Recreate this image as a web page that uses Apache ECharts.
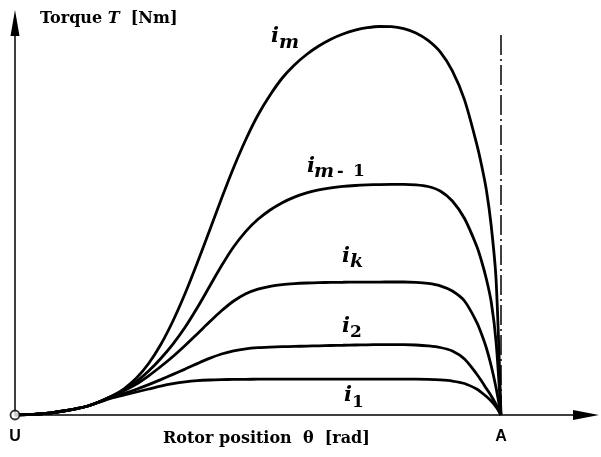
<!DOCTYPE html>
<html>
<head>
<meta charset="utf-8">
<script src="https://cdn.jsdelivr.net/npm/echarts@6/dist/echarts.min.js"></script>
<style>
html,body{margin:0;padding:0;background:#fff;}
#c{width:601px;height:457px;}
</style>
</head>
<body>
<div id="c"></div>
<script>
// Rotor position θ (A = 10)
const theta = [0,0.25,0.5,0.75,1,1.25,1.5,1.75,2,2.25,2.5,2.75,3,3.25,3.5,3.75,4,4.25,4.5,4.75,5,5.25,5.5,5.75,6,6.25,6.5,6.75,7,7.25,7.5,7.75,8,8.25,8.5,8.75,9,9.25,9.5,9.6,9.7,9.8,9.9,10];
// Torque curves (arbitrary units, axis top = 100)
const iM  = [0,0.08,0.26,0.56, 1.02,1.58,2.30,3.44, 4.85,6.76,9.44,13.14, 17.98,23.98,30.99,38.78, 46.94,55.23,63.14,70.28, 76.53,81.63,85.97,89.29, 91.96,94.13,95.87,97.19, 98.16,98.80,99.11,99.06, 98.55,97.45,95.56,92.63, 87.78,80.38,69.16, 63.78,57.40,48.21,34.44,0];
const iM1 = [0,0.08,0.26,0.56, 1.02,1.58,2.30,3.44, 4.85,6.38,8.52,11.20, 14.41,18.09,22.37,27.35, 32.70,38.06,42.91,46.86, 49.92,52.30,54.16,55.59, 56.66,57.42,57.96,58.32, 58.55,58.70,58.79,58.83, 58.83,58.72,58.29,57.14, 54.59,50.13,43.11, 39.29,34.69,28.83,18.62,0];
const iK  = [0,0.08,0.26,0.56, 1.02,1.58,2.30,3.44, 4.85,6.25,7.91,10.00, 12.37,14.92,17.73,20.69, 23.70,26.58,29.08,30.94, 32.12,32.83,33.27,33.52, 33.67,33.76,33.83,33.86, 33.89,33.90,33.92,33.93, 33.93,33.85,33.57,32.96, 31.63,29.08,23.72, 20.66,17.09,12.50,6.89,0];
const i2  = [0,0.08,0.26,0.56, 1.02,1.58,2.30,3.40, 4.59,5.51,6.58,7.76, 9.03,10.36,11.71,13.11, 14.44,15.56,16.38,16.89, 17.17,17.32,17.42,17.50, 17.58,17.65,17.73,17.79, 17.86,17.91,17.95,17.96, 17.96,17.86,17.63,17.22, 16.33,14.29,10.46, 8.67,6.76,4.85,2.68,0];
const i1  = [0,0.08,0.26,0.56, 1.02,1.58,2.30,3.32, 4.34,5.10,5.87,6.63, 7.37,7.98,8.44,8.75, 8.93,9.03,9.08,9.11, 9.13,9.13,9.13,9.13, 9.13,9.13,9.13,9.13, 9.13,9.13,9.13,9.13, 9.13,9.13,9.08,8.95, 8.67,8.04,6.63, 5.74,4.72,3.57,2.04,0];
const xTickLabels = {0: 'U', 10: 'A'};
const boundaryX = 10;
const boundaryTop = 97;

const chart = echarts.init(document.getElementById('c'), null, {renderer: 'canvas'});
const pair = ys => theta.map((x, i) => [x, ys[i]]);
const curve = (name, ys) => ({
  name, type: 'line', data: pair(ys), symbol: 'none', smooth: 0.3,
  lineStyle: {color: '#000', width: 2.8}, silent: true, z: 3
});
const serif = '"DejaVu Serif", "Liberation Serif", serif';
function lab(x, y, t, size, italic) {
  return {type: 'text', x, y, silent: true, style: {text: t, fill: '#000', font: (italic ? 'italic ' : '') + 'bold ' + size + 'px ' + serif, verticalAlign: 'middle', align: 'left'}};
}
const option = {
  animation: false,
  backgroundColor: '#fff',
  grid: {left: 15, right: 15, top: 23, bottom: 42},
  xAxis: {
    type: 'value', min: 0, max: 11.75, interval: 10,
    axisLine: {show: true, symbol: ['none', 'triangle'], symbolSize: [10, 26], lineStyle: {color: '#000', width: 1.5}},
    axisTick: {show: false}, splitLine: {show: false},
    axisLabel: {show: true, margin: 14, showMaxLabel: false, color: '#000', fontFamily: '"Liberation Sans", Arial, sans-serif', fontWeight: 'bold', fontSize: 16,
      formatter: v => xTickLabels[v] || ''}
  },
  yAxis: {
    type: 'value', min: 0, max: 100,
    axisLine: {show: true, symbol: ['none', 'triangle'], symbolSize: [9, 26], lineStyle: {color: '#000', width: 1.5}},
    axisTick: {show: false}, splitLine: {show: false}, axisLabel: {show: false}
  },
  series: [
    curve('i1', i1), curve('i2', i2), curve('ik', iK), curve('im-1', iM1), curve('im', iM),
    {
      type: 'line', data: [], silent: true,
      markLine: {symbol: 'none', silent: true, label: {show: false},
        lineStyle: {color: '#000', width: 1.5, type: [20, 4, 2, 4]},
        data: [[{coord: [boundaryX, 0]}, {coord: [boundaryX, boundaryTop]}]]}
    },
    {
      type: 'scatter', data: [[0, 0]], symbol: 'circle', symbolSize: 9, silent: true, z: 5,
      itemStyle: {color: '#fff', borderColor: '#000', borderWidth: 1.8}
    }
  ],
  graphic: [
    {type: 'text', left: 40, top: 11, silent: true, style: {rich: {
        a: {font: 'bold 16px ' + serif, fill: '#000'},
        b: {font: 'italic bold 16px ' + serif, fill: '#000'}},
      text: '{a|Torque }{b|T}{a|  [Nm]}'}},
    {type: 'text', left: 163, top: 431, silent: true, style: {rich: {
        a: {font: 'bold 16px ' + serif, fill: '#000'}},
      text: '{a|Rotor position  θ  [rad]}'}},
    lab(271, 37, 'i', 21, true), lab(279, 43, 'm', 19, true),
    lab(307, 167, 'i', 21, true), lab(314, 172, 'm', 19, true), lab(337, 172, '-', 16, false), lab(353, 172, '1', 17, false),
    lab(342, 257, 'i', 21, true), lab(350, 262, 'k', 19, true),
    lab(342, 327, 'i', 21, true), lab(350, 333, '2', 17, false),
    lab(344, 396, 'i', 21, true), lab(352, 403, '1', 17, false)
  ]
};
chart.setOption(option);
</script>
</body>
</html>
